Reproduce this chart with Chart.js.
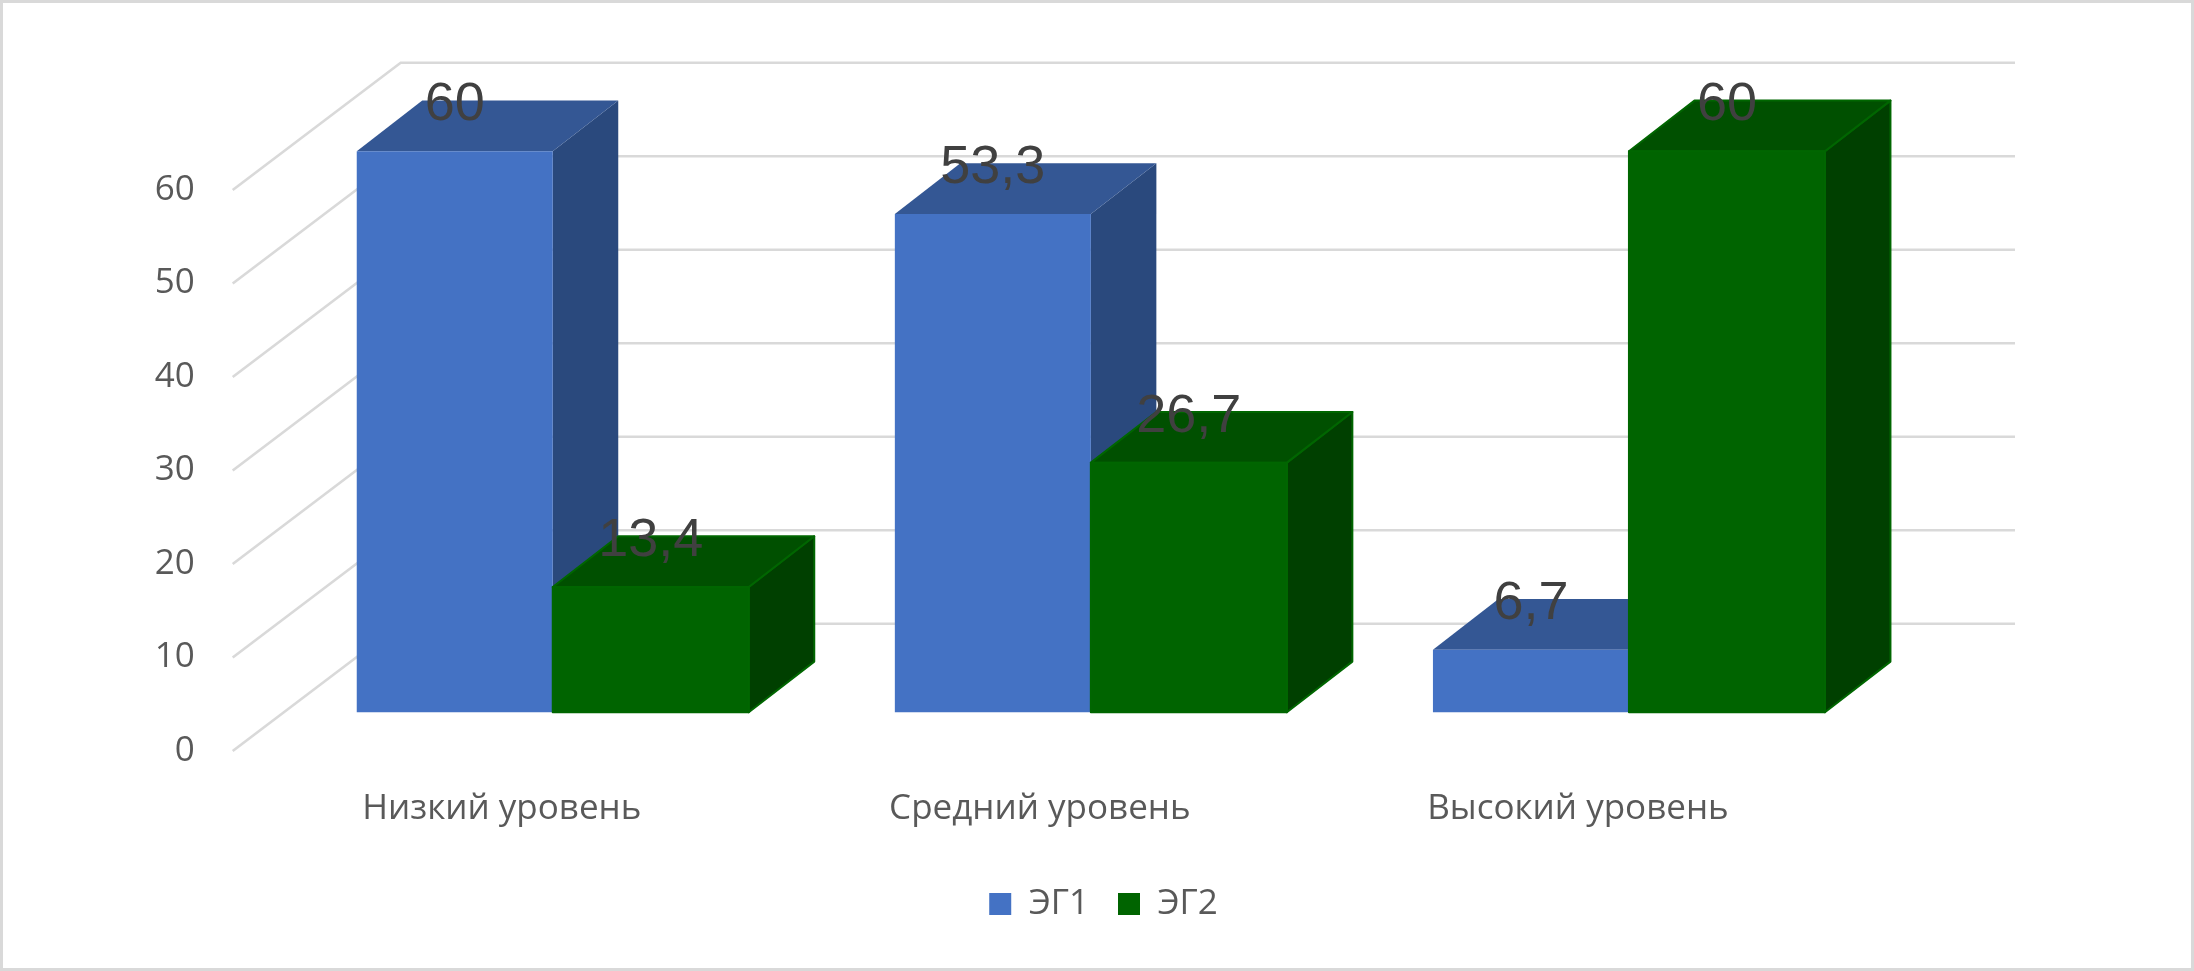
<!DOCTYPE html>
<html>
<head>
<meta charset="utf-8">
<script src="https://cdn.jsdelivr.net/npm/chart.js@4.4.1/dist/chart.umd.min.js"></script>
<style>
  html, body { margin: 0; padding: 0; background: #fff; }
  canvas { display: block; }
</style>
</head>
<body>
<canvas id="chart" width="2194" height="971"></canvas>
<script>
// data
const categories = ['Низкий уровень', 'Средний уровень', 'Высокий уровень'];
const seriesNames = ['ЭГ1', 'ЭГ2'];
const eg1 = [60, 53.3, 6.7];
const eg2 = [13.4, 26.7, 60];
const yTicks = [0, 10, 20, 30, 40, 50, 60];

// face colours for the fake 3d boxes
const shades = [
  { front: '#4472C4', top: '#345794', side: '#2A497D', edge: null },
  { front: '#006400', top: '#005000', side: '#004000', edge: '#006600' }
];

// oblique offsets, px
const barShift = { x: 51, y: -38.7 };    // front plane -> bar front face
const barDepth = { x: 65.5, y: -50.7 };  // bar front -> bar back
const wallShift = { x: 168, y: -127.3 }; // front plane -> back wall

const fmt = v => String(v).replace('.', ',');

function poly(ctx, pts, fill, edge) {
  ctx.beginPath();
  ctx.moveTo(pts[0][0], pts[0][1]);
  for (let i = 1; i < pts.length; i++) ctx.lineTo(pts[i][0], pts[i][1]);
  ctx.closePath();
  ctx.fillStyle = fill;
  ctx.fill();
  if (edge) {
    ctx.strokeStyle = edge;
    ctx.lineWidth = 2;
    ctx.lineJoin = 'round';
    ctx.stroke();
  }
}

const fake3d = {
  id: 'fake3d',
  beforeDraw(chart) {
    const { ctx, width, height } = chart;
    ctx.save();
    ctx.fillStyle = '#fff';
    ctx.fillRect(0, 0, width, height);
    ctx.restore();
  },
  beforeDatasetsDraw(chart) {
    // left wall diagonals + back wall gridlines
    const { ctx, chartArea: a, scales: { y } } = chart;
    ctx.save();
    ctx.strokeStyle = '#d9d9d9';
    ctx.lineWidth = 2.6;
    yTicks.forEach(v => {
      const py = y.getPixelForValue(v);
      ctx.beginPath();
      ctx.moveTo(a.left, py);
      ctx.lineTo(a.left + wallShift.x, py + wallShift.y);
      ctx.lineTo(a.right + wallShift.x, py + wallShift.y);
      ctx.stroke();
    });
    ctx.restore();
  },
  beforeDatasetDraw() {
    return false; // boxes are drawn below
  },
  afterDatasetsDraw(chart) {
    const ctx = chart.ctx;
    ctx.save();
    const dx = barDepth.x, dy = barDepth.y;
    chart.data.datasets.forEach((ds, i) => {
      const sh = shades[i];
      chart.getDatasetMeta(i).data.forEach(bar => {
        const l = bar.x - bar.width / 2 + barShift.x;
        const r = bar.x + bar.width / 2 + barShift.x;
        const t = bar.y + barShift.y;
        const b = bar.base + barShift.y;
        poly(ctx, [[r, t], [r + dx, t + dy], [r + dx, b + dy], [r, b]], sh.side, sh.edge);
        poly(ctx, [[l, t], [l + dx, t + dy], [r + dx, t + dy], [r, t]], sh.top, sh.edge);
        poly(ctx, [[l, t], [r, t], [r, b], [l, b]], sh.front, sh.edge);
      });
    });
    // value labels
    ctx.fillStyle = '#404040';
    ctx.font = '54px "Liberation Sans", Arial, sans-serif';
    ctx.textAlign = 'center';
    ctx.textBaseline = 'alphabetic';
    chart.data.datasets.forEach((ds, i) => {
      chart.getDatasetMeta(i).data.forEach((bar, j) => {
        ctx.fillText(fmt(ds.data[j]), bar.x + barShift.x, bar.y + barShift.y - 31);
      });
    });
    ctx.restore();
  },
  afterDraw(chart) {
    const { ctx, width, height } = chart;
    ctx.save();
    ctx.strokeStyle = '#d9d9d9';
    ctx.lineWidth = 3;
    ctx.strokeRect(1.5, 1.5, width - 3, height - 3);
    ctx.restore();
  }
};

const tickFont = { family: 'Open Sans', size: 35 };

new Chart(document.getElementById('chart'), {
  type: 'bar',
  data: {
    labels: categories,
    datasets: [
      { label: seriesNames[0], data: eg1, backgroundColor: shades[0].front, borderWidth: 0 },
      { label: seriesNames[1], data: eg2, backgroundColor: shades[1].front, borderWidth: 0 }
    ]
  },
  options: {
    responsive: false,
    devicePixelRatio: 1,
    animation: false,
    events: [],
    datasets: { bar: { categoryPercentage: 0.7285, barPercentage: 1 } },
    layout: { padding: { top: 190, left: 13, right: 0, bottom: 39.5 } },
    scales: {
      x: {
        grid: { display: false, drawTicks: false },
        border: { display: false },
        ticks: { padding: 37, color: '#595959', font: tickFont, maxRotation: 0, autoSkip: false },
        afterFit(s) { s.height = 106.5; }
      },
      y: {
        position: 'left',
        min: 0,
        max: 60,
        grid: { display: false, drawTicks: false },
        border: { display: false },
        ticks: { padding: 38, color: '#595959', font: tickFont },
        afterBuildTicks(s) { s.ticks = yTicks.map(v => ({ value: v })); },
        afterFit(s) { s.width = 219.7; }
      },
      // empty right axis, only reserves the space right of the floor
      y2: {
        position: 'right',
        display: true,
        grid: { display: false, drawTicks: false },
        border: { display: false },
        ticks: { display: false },
        afterFit(s) { s.width = 347; }
      }
    },
    plugins: {
      legend: {
        position: 'bottom',
        labels: { boxWidth: 22, boxHeight: 22, padding: 29, color: '#595959', font: tickFont }
      },
      tooltip: { enabled: false }
    }
  },
  plugins: [fake3d]
});
</script>
</body>
</html>
